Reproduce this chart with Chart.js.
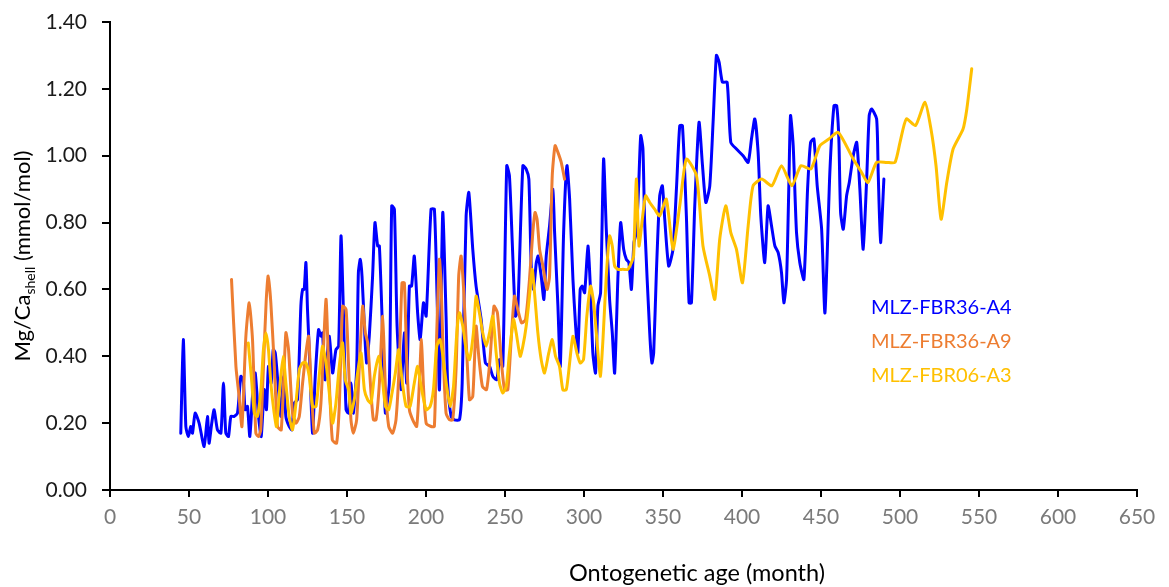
<!DOCTYPE html>
<html>
<head>
<meta charset="utf-8">
<script src="https://cdn.jsdelivr.net/npm/chart.js@4/dist/chart.umd.min.js"></script>
<style>
html,body{margin:0;padding:0;background:#fff;}
#wrap{width:1169px;height:587px;}
</style>
</head>
<body>
<div id="wrap"><canvas id="c" width="1169" height="587"></canvas></div>
<script>
// ---- data ----
const xTicksMax = 650;
const yTicksMax = 1.4;

const a4Month = [44.8,46.4,48.0,49.6,51.1,52.2,53.9,56.4,59.6,61.7,
62.7,64.4,65.9,68.0,70.2,71.8,73.3,75.0,76.5,78.6,
80.7,82.8,84.3,85.5,87.0,88.5,90.2,91.9,94.0,95.7,
97.6,99.0,100.3,102.0,103.3,104.6,106.3,108.2,109.8,111.3,
113.4,115.1,116.6,118.7,120.8,121.9,122.9,124.0,125.0,126.1,
128.2,129.9,132.0,133.5,134.5,136.1,137.1,138.8,140.9,143.0,
144.7,146.2,147.7,149.4,151.0,152.5,154.0,156.1,157.2,158.4,
159.5,161.0,162.4,164.1,166.2,167.7,169.4,170.5,172.6,174.3,
176.8,178.3,180.0,181.7,184.2,186.3,187.8,189.5,190.9,192.6,
194.7,196.3,198.4,200.1,203.2,205.3,207.0,208.5,210.6,212.7,
213.7,215.9,218.0,221.2,222.9,225.4,227.1,229.6,231.7,234.9,
237.6,240.2,242.3,244.8,246.5,248.6,251.1,252.8,254.6,256.6,
258.1,261.3,263.4,265.1,266.6,268.1,269.8,271.0,272.9,274.6,
276.1,278.2,280.3,281.4,283.5,285.0,287.1,289.2,290.9,293.0,
294.7,296.1,297.6,298.9,300.4,302.5,304.0,305.6,307.3,308.8,
310.5,312.4,314.1,316.2,317.9,319.4,321.5,323.2,325.1,326.8,
328.4,330.0,331.6,333.1,334.6,335.9,337.3,338.4,341.6,343.0,
344.1,345.8,347.9,349.6,351.1,353.6,356.3,358.5,360.6,362.3,
364.8,366.5,368.0,370.1,372.8,375.0,377.1,379.6,381.7,383.8,
385.5,387.6,390.6,392.9,396.5,400.7,403.9,406.0,408.1,410.2,
411.9,414.4,416.5,418.7,420.8,422.9,425.0,426.5,428.2,429.6,
430.7,432.4,434.5,436.6,439.2,441.5,443.4,445.5,447.6,450.4,
452.5,455.6,458.2,459.9,461.3,462.4,464.1,466.2,467.9,470.4,
472.6,474.6,476.7,478.9,480.5,482.0,485.2,486.2,487.7,489.8];
const a4MgCa = [0.17,0.45,0.19,0.16,0.19,0.17,0.23,0.20,0.13,0.22,
0.14,0.20,0.24,0.18,0.17,0.32,0.17,0.16,0.22,0.22,
0.23,0.34,0.33,0.24,0.25,0.16,0.28,0.35,0.22,0.16,
0.30,0.24,0.37,0.32,0.42,0.41,0.32,0.22,0.34,0.22,
0.19,0.18,0.26,0.27,0.55,0.60,0.60,0.68,0.54,0.42,
0.17,0.34,0.48,0.46,0.47,0.33,0.38,0.46,0.35,0.42,
0.43,0.76,0.54,0.24,0.23,0.32,0.23,0.36,0.65,0.69,
0.64,0.49,0.38,0.46,0.64,0.80,0.73,0.73,0.46,0.23,
0.32,0.85,0.84,0.49,0.30,0.47,0.32,0.61,0.61,0.70,
0.53,0.45,0.56,0.52,0.84,0.84,0.58,0.30,0.83,0.52,
0.32,0.22,0.21,0.21,0.32,0.82,0.89,0.72,0.61,0.51,
0.38,0.37,0.34,0.33,0.39,0.37,0.97,0.94,0.74,0.52,
0.54,0.97,0.96,0.93,0.67,0.60,0.68,0.70,0.64,0.57,
0.70,0.79,0.90,0.77,0.55,0.37,0.77,0.97,0.87,0.63,
0.49,0.41,0.60,0.61,0.59,0.73,0.61,0.41,0.35,0.55,
0.59,0.99,0.78,0.57,0.47,0.35,0.64,0.80,0.72,0.69,
0.68,0.60,0.74,0.77,0.91,1.06,1.02,0.80,0.47,0.38,
0.41,0.65,0.88,0.91,0.81,0.67,0.72,0.90,1.09,1.09,
0.82,0.56,0.56,0.85,1.10,0.97,0.86,0.91,1.10,1.30,
1.28,1.22,1.22,1.04,1.02,1.00,0.98,1.05,1.11,1.01,
0.82,0.68,0.85,0.79,0.73,0.71,0.65,0.56,0.63,0.90,
1.12,1.03,0.77,0.68,0.63,0.90,1.04,1.05,0.91,0.78,
0.53,0.95,1.15,1.15,1.05,0.83,0.78,0.88,0.92,1.00,
1.04,0.90,0.72,0.93,1.12,1.14,1.11,0.95,0.74,0.93];

const a9Month = [76.9,79.7,81.7,83.5,86.0,88.1,90.2,92.3,94.0,95.4,
97.3,98.9,100.1,101.8,103.9,106.0,108.4,111.3,113.0,115.5,
117.7,119.8,121.9,124.0,125.7,127.2,129.3,131.4,133.5,136.7,
138.3,140.7,143.4,145.1,147.2,149.4,151.0,152.5,154.0,156.1,
157.8,159.9,161.6,163.1,165.2,166.7,168.4,170.5,172.6,174.3,
176.4,178.9,181.0,183.1,184.8,186.3,187.8,189.5,191.6,194.1,
195.8,197.1,198.4,200.1,203.2,205.3,206.8,208.5,209.6,211.0,
212.7,214.8,216.9,219.1,220.7,222.2,223.7,225.4,227.5,229.6,
231.7,233.4,235.7,238.3,240.5,243.0,245.2,247.6,249.7,251.8,
253.9,256.0,258.1,260.5,263.0,265.5,267.6,269.0,270.3,271.9,
274.0,276.6,278.2,279.9,281.7,283.5,285.6,287.7];
const a9MgCa = [0.63,0.37,0.28,0.19,0.46,0.56,0.45,0.17,0.16,0.18,
0.39,0.57,0.64,0.56,0.38,0.19,0.18,0.47,0.42,0.23,
0.20,0.22,0.32,0.41,0.46,0.32,0.17,0.18,0.26,0.57,
0.38,0.15,0.14,0.25,0.55,0.54,0.37,0.21,0.17,0.21,
0.37,0.55,0.47,0.44,0.29,0.21,0.21,0.32,0.52,0.31,
0.19,0.17,0.21,0.38,0.62,0.62,0.39,0.24,0.21,0.19,
0.32,0.45,0.31,0.20,0.19,0.19,0.47,0.69,0.61,0.39,
0.23,0.21,0.21,0.37,0.64,0.70,0.61,0.45,0.27,0.28,
0.49,0.40,0.31,0.30,0.39,0.55,0.53,0.39,0.30,0.30,
0.45,0.58,0.54,0.50,0.51,0.63,0.77,0.83,0.81,0.72,
0.67,0.60,0.64,0.94,1.03,1.01,0.98,0.93];

const a3Month = [87.5,89.8,91.3,93.3,95.5,97.1,98.7,100.3,101.8,103.9,
105.4,107.7,109.6,111.3,113.4,115.5,117.7,119.8,121.9,124.0,
126.1,128.2,130.4,132.4,134.5,136.7,138.8,140.9,143.0,145.1,
147.2,148.9,151.0,152.5,154.6,156.7,158.9,161.0,163.1,165.2,
167.3,170.0,172.2,174.3,176.4,178.5,180.6,182.7,184.8,187.4,
189.9,192.6,194.7,196.9,200.1,202.6,204.7,206.8,208.9,211.0,
213.1,215.3,217.4,219.5,221.2,223.3,225.4,227.5,230.0,231.7,
233.8,235.9,238.1,240.2,242.3,244.4,246.5,248.6,250.8,252.8,
255.4,257.1,259.6,261.3,263.4,265.5,267.2,268.7,270.8,272.9,
275.0,277.7,279.9,282.0,284.5,286.6,288.8,290.9,293.0,295.5,
297.6,299.7,301.8,304.2,306.1,307.8,310.3,312.0,314.1,316.2,
317.9,319.4,321.5,324.6,327.8,330.0,331.4,333.1,334.8,336.9,
339.0,341.6,344.7,347.9,352.1,356.3,360.6,364.8,371.2,375.3,
379.6,382.8,385.9,389.7,392.9,396.5,400.3,403.9,407.0,412.5,
418.9,425.0,431.6,437.3,443.6,449.3,455.0,460.9,470.4,475.7,
479.7,485.2,491.6,496.8,500.0,504.0,509.8,515.8,519.6,522.8,
526.0,529.6,533.6,539.9,542.3,545.4];
const a3MgCa = [0.44,0.32,0.23,0.22,0.30,0.42,0.47,0.42,0.32,0.23,
0.19,0.32,0.40,0.32,0.22,0.18,0.26,0.36,0.38,0.38,
0.34,0.25,0.25,0.34,0.43,0.38,0.29,0.20,0.26,0.37,
0.44,0.33,0.30,0.23,0.27,0.35,0.41,0.30,0.27,0.26,
0.34,0.40,0.34,0.25,0.24,0.29,0.35,0.42,0.33,0.25,
0.25,0.32,0.37,0.31,0.24,0.25,0.30,0.43,0.45,0.39,
0.31,0.25,0.31,0.47,0.53,0.49,0.42,0.39,0.47,0.58,
0.53,0.47,0.43,0.47,0.52,0.41,0.32,0.29,0.31,0.41,
0.51,0.47,0.40,0.43,0.49,0.58,0.66,0.59,0.47,0.39,
0.35,0.41,0.45,0.40,0.37,0.30,0.30,0.38,0.46,0.41,
0.38,0.39,0.52,0.61,0.56,0.47,0.34,0.45,0.64,0.76,
0.73,0.67,0.66,0.66,0.66,0.68,0.70,0.93,0.73,0.81,
0.88,0.86,0.84,0.82,0.87,0.72,0.85,0.99,0.94,0.73,
0.64,0.57,0.75,0.85,0.77,0.72,0.62,0.79,0.91,0.93,
0.91,0.97,0.91,0.97,0.96,1.03,1.05,1.07,0.99,0.95,
0.92,0.98,0.98,0.98,1.04,1.11,1.09,1.16,1.08,0.97,
0.81,0.92,1.02,1.08,1.14,1.26];

const seriesNames = ['MLZ-FBR36-A4','MLZ-FBR36-A9','MLZ-FBR06-A3'];
const seriesColors = ['#0000FF','#ED7D31','#FFC000'];

function pairs(xs, ys){
  const n = Math.min(xs.length, ys.length);
  const out = [];
  for (let i=0;i<n;i++) out.push({x:xs[i], y:ys[i]});
  return out;
}

Chart.defaults.font.family = 'Lato, "Open Sans", sans-serif';

const labelsPlugin = {
  id:'labelsPlugin',
  afterDraw(chart){
    const ctx = chart.ctx;
    const ca = chart.chartArea;
    ctx.save();
    // legend text
    ctx.font = '20px Lato';
    ctx.textAlign = 'left';
    ctx.textBaseline = 'alphabetic';
    const legY = [314, 348, 382];
    for (let i=0;i<seriesNames.length;i++){
      ctx.fillStyle = seriesColors[i];
      ctx.fillText(seriesNames[i], 871, legY[i]);
    }
    // x title
    ctx.fillStyle = '#000';
    ctx.font = '23.5px Lato';
    ctx.textAlign = 'center';
    ctx.fillText('Ontogenetic age (month)', 697, 581);
    // y title with subscript
    const cy = (ca.top + ca.bottom)/2;
    ctx.translate(30, cy);
    ctx.rotate(-Math.PI/2);
    const mainFont = '22px Lato', subFont = '14px Lato';
    ctx.font = mainFont; const w1 = ctx.measureText('Mg/Ca').width;
    ctx.font = subFont; const w2 = ctx.measureText('shell').width;
    ctx.font = mainFont; const w3 = ctx.measureText(' (mmol/mol)').width;
    let x = -(w1+w2+w3)/2;
    ctx.textAlign = 'left';
    ctx.font = mainFont; ctx.fillText('Mg/Ca', x, 0); x += w1;
    ctx.font = subFont; ctx.fillText('shell', x, 5); x += w2;
    ctx.font = mainFont; ctx.fillText(' (mmol/mol)', x, 0);
    ctx.restore();
  }
};

new Chart(document.getElementById('c'), {
  type:'line',
  data:{
    datasets:[
      {label:seriesNames[0], data:pairs(a4Month,a4MgCa), borderColor:seriesColors[0], order:3},
      {label:seriesNames[1], data:pairs(a9Month,a9MgCa), borderColor:seriesColors[1], order:2},
      {label:seriesNames[2], data:pairs(a3Month,a3MgCa), borderColor:seriesColors[2], order:1}
    ]
  },
  options:{
    responsive:false,
    animation:false,
    parsing:true,
    elements:{
      line:{borderWidth:3, tension:0.2, fill:false, borderCapStyle:'round', borderJoinStyle:'round'},
      point:{radius:0, hoverRadius:0}
    },
    layout:{padding:{top:22, right:32, left:0, bottom:0}},
    plugins:{legend:{display:false}, tooltip:{enabled:false}, title:{display:false}},
    scales:{
      x:{
        type:'linear', min:0, max:xTicksMax,
        ticks:{stepSize:50, color:'#7a7a7a', font:{size:21}, padding:8, maxRotation:0},
        grid:{display:true, drawOnChartArea:false, drawTicks:true, tickLength:7, color:'#000', lineWidth:2},
        border:{display:true, color:'#000', width:2},
        afterFit(s){ s.height = 97; }
      },
      y:{
        type:'linear', min:0, max:yTicksMax,
        ticks:{stepSize:0.2, color:'#1a1a1a', font:{size:21}, padding:15,
               callback:(v)=>Number(v).toFixed(2)},
        grid:{display:true, drawOnChartArea:false, drawTicks:true, tickLength:8, color:'#000', lineWidth:2},
        border:{display:true, color:'#000', width:2},
        afterFit(s){ s.width = 110; s.paddingTop = 12; s.paddingBottom = 12; }
      }
    }
  },
  plugins:[labelsPlugin]
});
</script>
</body>
</html>
